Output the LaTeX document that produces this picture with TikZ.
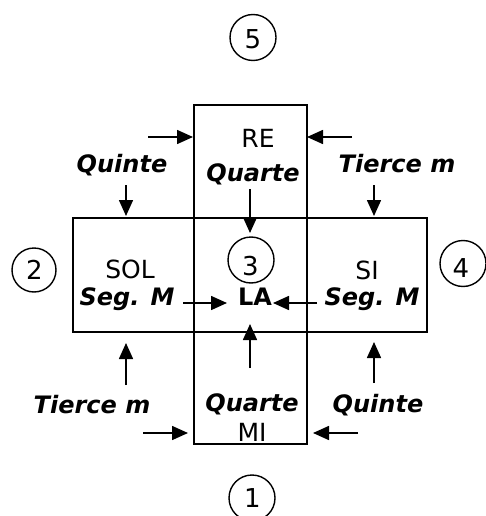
\documentclass[tikz,border=0pt]{standalone}
\usepackage{fontspec}
\setmainfont{DejaVu Sans}
\usetikzlibrary{arrows.meta}
\begin{document}
\begin{tikzpicture}[x=1pt,y=-1pt,
  box/.style={draw, line width=1.8pt, inner sep=0pt},
  circ/.style={draw, circle, line width=1.4pt, minimum size=46pt, inner sep=0pt},
  dig/.style={font=\fontsize{26}{30}\selectfont, inner sep=0pt, anchor=base},
  nt/.style={font=\fontsize{25}{28}\selectfont, inner sep=0pt, anchor=base},
  bt/.style={font=\fontsize{24}{28}\selectfont\bfseries\itshape, inner sep=0pt, anchor=base},
  arr/.style={-{Triangle[length=16pt,width=14pt]}, line width=1.6pt}]
\useasboundingbox (0,0) rectangle (485,516);
\fill[white] (0,0) rectangle (485,516);
% boxes
\node[box, minimum width=113pt, minimum height=339pt] (vbox) at (250.5,274.5) {};
\node[box, minimum width=354pt, minimum height=114pt] (hbox) at (250,275) {};
% numbered circles
\node[circ] (c5) at (253,37.5) {};
\node[circ] (c3) at (251,260) {};
\node[circ, minimum size=44pt] (c2) at (34,270) {};
\node[circ] (c4) at (463,263.5) {};
\node[circ] (c1) at (252,498) {};
\node[dig] (d5) at (253,49) {5};
\node[dig] (d3) at (250.5,275.5) {3};
\node[dig] (d2) at (34.5,279) {2};
\node[dig] (d4) at (461,277) {4};
\node[dig] (d1) at (252.5,507) {1};
% texts
\node[nt] (re) at (258,147) {RE};
\node[bt] (quarteT) at (253,181) {Quarte};
\node[bt] (quinteT) at (122,172) {Quinte};
\node[bt] (tierceT) at (397,172.5) {Tierce m};
\node[nt] (sol) at (130,278) {SOL};
\node[bt] (segL) at (127,305) {Seg. M};
\node[font=\fontsize{24}{28}\selectfont\bfseries, inner sep=0pt, anchor=base] (la) at (255,305) {LA};
\node[nt] (si) at (367,279) {SI};
\node[bt] (segR) at (372,305) {Seg. M};
\node[bt] (tierceB) at (92,413.5) {Tierce m};
\node[bt] (quarteB) at (252,411) {Quarte};
\node[bt] (quinteB) at (378,412) {Quinte};
\node[nt] (mi) at (252,441.5) {MI};
% arrow coordinates
\coordinate (a1s) at (148,137); \coordinate (a1e) at (193,137);
\coordinate (a2s) at (352,137); \coordinate (a2e) at (307,137);
\coordinate (a3s) at (126,185); \coordinate (a3e) at (126,216);
\coordinate (a4s) at (250,189); \coordinate (a4e) at (250,233);
\coordinate (a5s) at (374,185); \coordinate (a5e) at (374,216);
\coordinate (a6s) at (183,303); \coordinate (a6e) at (227,303);
\coordinate (a7s) at (317,303); \coordinate (a7e) at (273,303);
\coordinate (a8s) at (126,385); \coordinate (a8e) at (126,343);
\coordinate (a9s) at (250,368); \coordinate (a9e) at (250,324);
\coordinate (a10s) at (374,383); \coordinate (a10e) at (374,342);
\coordinate (a11s) at (143,433); \coordinate (a11e) at (188,433);
\coordinate (a12s) at (358,433); \coordinate (a12e) at (313,433);
\foreach \i in {1,...,12} { \draw[arr] (a\i s) -- (a\i e); }
\end{tikzpicture}
\end{document}
